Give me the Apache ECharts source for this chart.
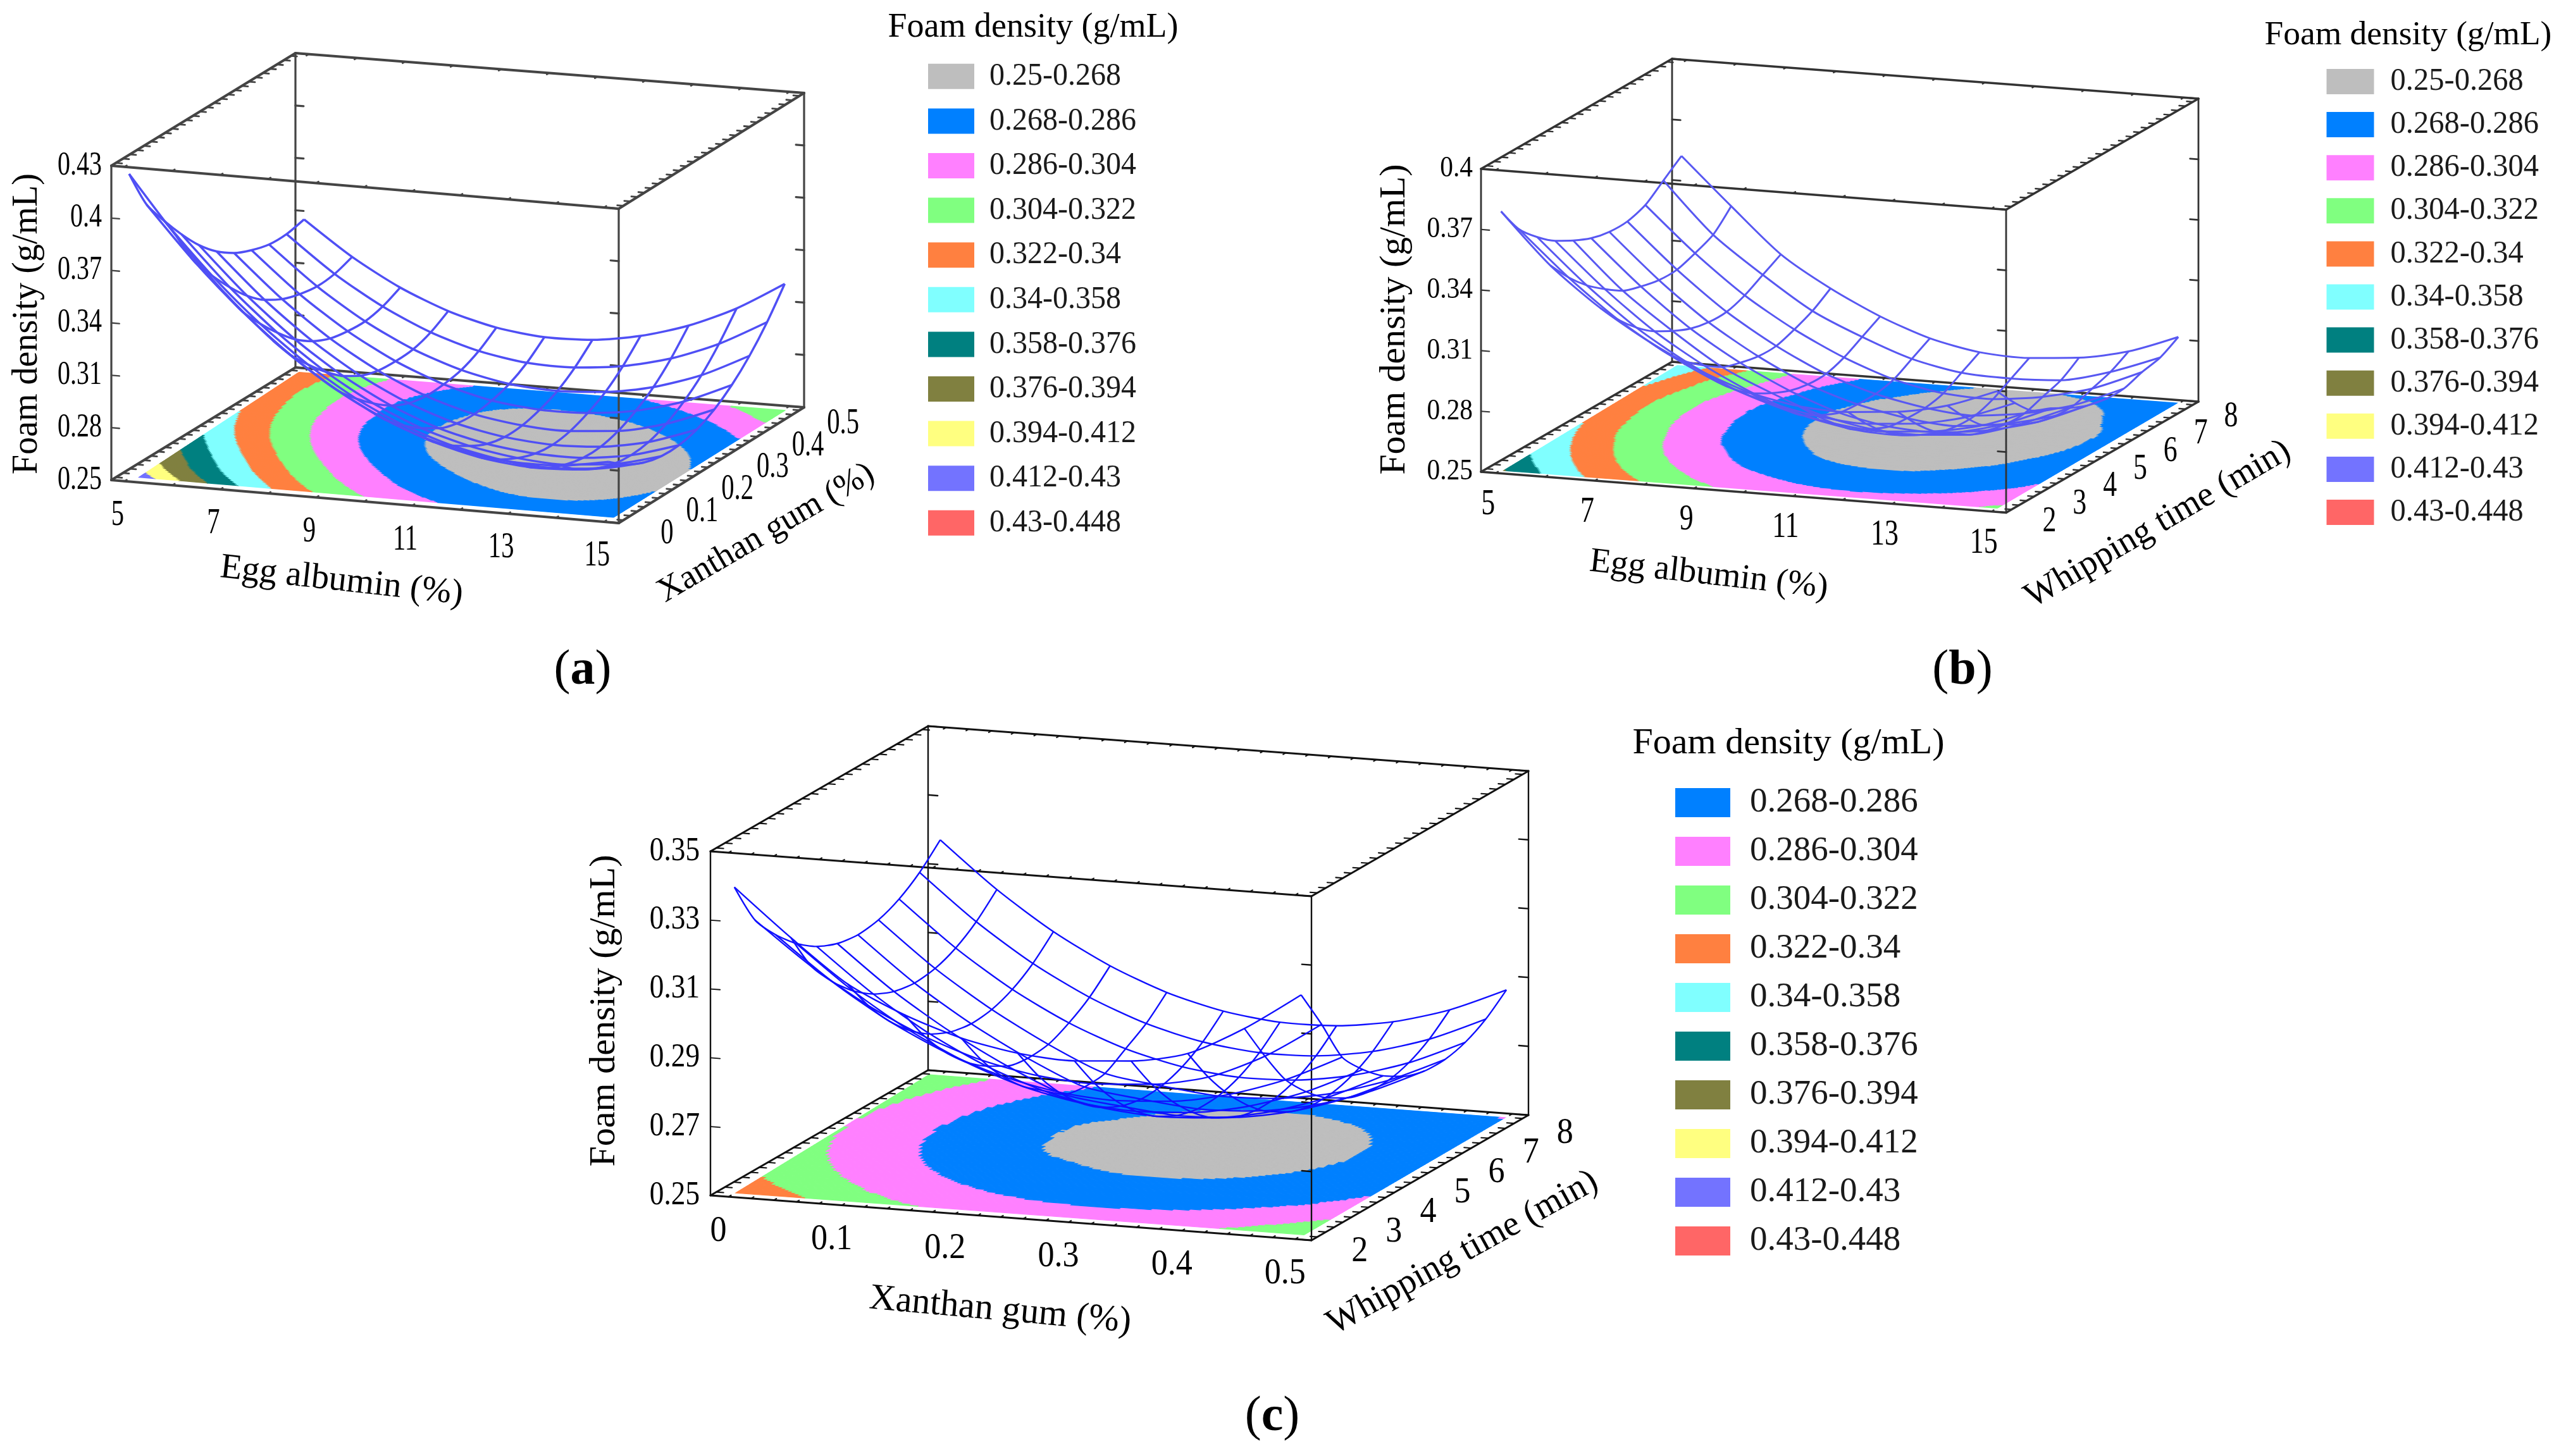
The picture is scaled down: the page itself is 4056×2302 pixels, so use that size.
<!DOCTYPE html>
<html><head><meta charset="utf-8">
<style>html,body{margin:0;padding:0;background:#fff}#c{width:4056px;height:2302px}</style>
<script src="https://cdn.jsdelivr.net/npm/echarts@6/dist/echarts.min.js"></script>
</head><body><div id="c"></div>
<script>
// ---------- values ----------
const bandLimits = [0.25,0.268,0.286,0.304,0.322,0.34,0.358,0.376,0.394,0.412,0.43,0.448];
const bandColors = ['#BEBEBE','#0080FF','#FF80FF','#80FF80','#FF8040','#80FFFF','#008080','#808040','#FFFF80','#7373FF','#FF6666'];
const legendLabels = ['0.25-0.268','0.268-0.286','0.286-0.304','0.304-0.322','0.322-0.34','0.34-0.358','0.358-0.376','0.376-0.394','0.394-0.412','0.412-0.43','0.43-0.448'];
const legendLabelsC = ['0.268-0.286','0.286-0.304','0.304-0.322','0.322-0.34','0.34-0.358','0.358-0.376','0.376-0.394','0.394-0.412','0.412-0.43','0.43-0.448'];
const eggTicks = [5,7,9,11,13,15];
const xanthanTicks = [0,0.1,0.2,0.3,0.4,0.5];
const whipTicks = [2,3,4,5,6,7,8];
const zTicksA = [0.25,0.28,0.31,0.34,0.37,0.4,0.43];
const zTicksB = [0.25,0.28,0.31,0.34,0.37,0.4];
const zTicksC = [0.25,0.27,0.29,0.31,0.33,0.35];
// rows: second factor low to high; columns: first factor low to high
const surfaceA = [
[.4243,.3905,.3606,.3359,.3163,.3007,.2891,.2815,.2779,.2783,.2827],
[.4006,.3702,.3439,.3215,.3031,.2887,.2784,.2717,.2687,.2697,.2749],
[.3852,.3561,.3309,.3098,.2926,.2795,.2703,.2646,.2622,.2639,.2697],
[.3713,.3434,.3195,.2995,.2836,.2717,.2638,.2592,.2577,.2603,.2671],
[.3590,.3323,.3096,.2909,.2762,.2655,.2588,.2555,.2553,.2591,.2671],
[.3493,.3238,.3024,.2849,.2714,.2620,.2565,.2543,.2554,.2604,.2697],
[.3423,.3181,.2978,.2816,.2693,.2611,.2569,.2559,.2582,.2645,.2749],
[.3378,.3148,.2958,.2808,.2698,.2627,.2597,.2600,.2635,.2710,.2827],
[.3349,.3131,.2953,.2815,.2718,.2660,.2642,.2658,.2708,.2798,.2931],
[.3347,.3141,.2976,.2850,.2765,.2719,.2714,.2744,.2809,.2915,.3061],
[.3370,.3177,.3023,.2910,.2837,.2804,.2810,.2854,.2935,.3055,.3217]];
const surfaceB = [
[.378,.353,.334,.319,.307,.298,.293,.292,.294,.299,.308],
[.364,.342,.323,.308,.296,.288,.283,.281,.283,.288,.297],
[.355,.333,.314,.299,.287,.279,.274,.272,.274,.279,.288],
[.348,.326,.307,.292,.280,.271,.266,.265,.268,.274,.284],
[.343,.320,.302,.286,.275,.266,.261,.260,.262,.269,.279],
[.339,.317,.298,.283,.271,.262,.257,.256,.259,.265,.275],
[.337,.315,.296,.281,.269,.261,.256,.254,.257,.263,.273],
[.337,.315,.296,.281,.269,.261,.256,.254,.257,.263,.273],
[.340,.318,.299,.284,.272,.263,.258,.257,.260,.266,.276],
[.347,.322,.304,.288,.277,.268,.263,.262,.263,.269,.278],
[.354,.331,.309,.294,.282,.273,.268,.267,.269,.274,.283]];
const surfaceC = [
[.3390,.3255,.3133,.3056,.3001,.2969,.2959,.2971,.3005,.3090,.3200],
[.3260,.3137,.3036,.2958,.2902,.2869,.2858,.2869,.2902,.2975,.3080],
[.3183,.3059,.2957,.2878,.2821,.2787,.2775,.2785,.2817,.2872,.2950],
[.3123,.2998,.2895,.2815,.2757,.2722,.2709,.2718,.2749,.2803,.2880],
[.3080,.2954,.2850,.2769,.2710,.2674,.2660,.2668,.2698,.2751,.2827],
[.3054,.2927,.2822,.2735,.2665,.2643,.2628,.2635,.2664,.2716,.2791],
[.3045,.2917,.2811,.2723,.2652,.2629,.2613,.2619,.2647,.2698,.2772],
[.3054,.2925,.2818,.2729,.2657,.2633,.2616,.2621,.2648,.2698,.2771],
[.3080,.2950,.2842,.2757,.2694,.2654,.2636,.2640,.2666,.2715,.2787],
[.3123,.2992,.2883,.2797,.2733,.2692,.2673,.2676,.2701,.2749,.2820],
[.3183,.3051,.2941,.2854,.2789,.2747,.2727,.2729,.2753,.2800,.2870]];

// ---------- layout of the three panels ----------
const FONT = '"Liberation Serif","Times New Roman",serif';
const panels = [
 {tag:'a', surface:surfaceA, xTicks:eggTicks, yTicks:xanthanTicks, zTicks:zTicksA, xMinor:1, yMinor:0.02, M:200,
  zMin:0.25, zMax:0.43, fl:[176,759], fr:[978,827], br:[1271,644], bl:[467,581], H:497,
  sa:[.026,.971], sb:[.025,.975], floor:{fl:[.04,.04],fr:[.975,.04],br:[.975,.965],bl:[.02,.965]},
  xOff:[-11,54], yOff:[69,21], zOff:-15, tick:{size:52,sx:.77}, atick:{size:58,sx:.7}, mesh:{c:'#4f4ff5',w:3.5}, box:{c:'#444',w:4},
  zTitle:{t:'Foam density (g/mL)',x:43,y:512,r:90,s:56,sx:1},
  xTitle:{t:'Egg albumin (%)',x:540,y:919,r:-6.4,s:56,sx:1},
  yTitle:{t:'Xanthan gum (%)',x:1211,y:843,r:30.3,s:54,sx:1},
  sub:{x:921,y:1061},
  legend:{title:'Foam density (g/mL)',tx:1633,ty:44,ts:54,labels:legendLabels,first:0,sx0:1467,sw:73,sh:40,y0:120.8,dy:70.6,lx:1564,ls:50,lsx:.96}},
 {tag:'b', surface:surfaceB, xTicks:eggTicks, yTicks:whipTicks, zTicks:zTicksB, xMinor:1, yMinor:0.25, M:200,
  zMin:0.25, zMax:0.40, fl:[2341,746], fr:[3171,810.5], br:[3475,635], bl:[2643,572], H:479,
  sa:[.028,.972], sb:[.028,.972], floor:{fl:[.0345,.024],fr:[.972,.03],br:[.968,.976],bl:[.02,.973]},
  xOff:[-12,50], yOff:[60,19], zOff:-13, tick:{size:47,sx:.88}, atick:{size:57,sx:.77}, mesh:{c:'#5858f2',w:3}, box:{c:'#333',w:3.5},
  zTitle:{t:'Foam density (g/mL)',x:2205,y:505,r:90,s:57.8,sx:1},
  xTitle:{t:'Egg albumin (%)',x:2701,y:909,r:-6.4,s:55,sx:1},
  yTitle:{t:'Whipping time (min)',x:3411,y:829,r:30.2,s:56,sx:1},
  sub:{x:3102,y:1061},
  legend:{title:'Foam density (g/mL)',tx:3806.5,ty:56,ts:53.4,labels:legendLabels,first:0,sx0:3677.5,sw:75,sh:40,y0:129,dy:68.1,lx:3778.6,ls:50,lsx:.97}},
 {tag:'c', surface:surfaceC, xTicks:xanthanTicks, yTicks:whipTicks, zTicks:zTicksC, xMinor:0.02, yMinor:0.25, M:115,
  zMin:0.25, zMax:0.35, fl:[1123,1890], fr:[2073,1961], br:[2416,1763], bl:[1467,1692], H:544,
  sa:[.03,.973], sb:[.027,.973], floor:{fl:[.031,.031],fr:[.975,.035],br:[.972,.97],bl:[.013,.969]},
  xOff:[-16,55], yOff:[67,24], zOff:-17, tick:{size:52,sx:.87}, atick:{size:56,sx:.93}, mesh:{c:'#1010ff',w:2.4}, box:{c:'#111',w:3},
  zTitle:{t:'Foam density (g/mL)',x:956,y:1598,r:90,s:58,sx:1},
  xTitle:{t:'Xanthan gum (%)',x:1581,y:2072,r:-5.2,s:58,sx:1},
  yTitle:{t:'Whipping time (min)',x:2312,y:1981,r:29,s:56.5,sx:1},
  sub:{x:2011,y:2241},
  legend:{title:'Foam density (g/mL)',tx:2827,ty:1176,ts:58,labels:legendLabelsC,first:1,sx0:2648,sw:87,sh:46,y0:1269,dy:77,lx:2766,ls:55,lsx:1}}
];

// ---------- projection: data fractions -> page position ----------
function lerp(a,b,t){return a+(b-a)*t;}
function boxPt(p,a,b,zf){
  const lo=[lerp(p.fl[0],p.fr[0],a),lerp(p.fl[1],p.fr[1],a)];
  const hi=[lerp(p.bl[0],p.br[0],a),lerp(p.bl[1],p.br[1],a)];
  return [lerp(lo[0],hi[0],b),lerp(lo[1],hi[1],b)-p.H*zf];
}
function range(arr){return [arr[0],arr[arr.length-1]];}
function xFrac(p,x){const r=range(p.xTicks);return lerp(p.sa[0],p.sa[1],(x-r[0])/(r[1]-r[0]));}
function yFrac(p,y){const r=range(p.yTicks);return lerp(p.sb[0],p.sb[1],(y-r[0])/(r[1]-r[0]));}
function zFrac(p,z){return (z-p.zMin)/(p.zMax-p.zMin);}
function floorPt(p,u,v){
  const f=p.floor;
  const a=lerp(lerp(f.fl[0],f.fr[0],u),lerp(f.bl[0],f.br[0],u),v);
  const b=lerp(lerp(f.fl[1],f.fr[1],u),lerp(f.bl[1],f.br[1],u),v);
  return boxPt(p,a,b,0);
}
// local quadratic reading of the table between its nodes
function basis(s,n){
  let i=Math.round(s); i=Math.max(1,Math.min(n-2,i));
  const t=s-i;
  return {i,w:[t*(t-1)/2,1-t*t,t*(t+1)/2]};
}
function zAt(g,u,v){
  const nx=g[0].length,ny=g.length;
  const bu=basis(u*(nx-1),nx),bv=basis(v*(ny-1),ny);
  let z=0;
  for(let r=0;r<3;r++)for(let c=0;c<3;c++) z+=bv.w[r]*bu.w[c]*g[bv.i-1+r][bu.i-1+c];
  return z;
}
function bandOf(z){
  for(let k=0;k<bandColors.length;k++) if(z<bandLimits[k+1]) return k;
  return bandColors.length-1;
}

// ---------- series ----------
const series=[];
function customSeries(z,count,render){
  series.push({type:'custom',coordinateSystem:'cartesian2d',silent:true,animation:false,clip:false,z:z,
    data:Array.from({length:count},(_,i)=>[i]),encode:{x:0,y:0},renderItem:render});
}
panels.forEach(p=>{
  // contour floor, one data row per strip
  const M=p.M;
  customSeries(1,M,(params,api)=>{
    const k=params.dataIndex, v0=k/M, v1=(k+1)/M, vm=(k+.5)/M;
    const kids=[]; let start=0, cur=bandOf(zAt(p.surface,.5/M,vm));
    const push=(i0,i1,b)=>{
      const pts=[floorPt(p,i0/M,v0),floorPt(p,i1/M,v0),floorPt(p,i1/M,v1),floorPt(p,i0/M,v1)].map(q=>api.coord(q));
      kids.push({type:'polygon',shape:{points:pts},style:{fill:bandColors[b],stroke:bandColors[b],lineWidth:1.2}});
    };
    for(let i=1;i<M;i++){
      const b=bandOf(zAt(p.surface,(i+.5)/M,vm));
      if(b!==cur){push(start,i,cur);start=i;cur=b;}
    }
    push(start,M,cur);
    return {type:'group',children:kids};
  });
  // box frame with ticks
  const segs=[];
  const c=[[0,0],[1,0],[1,1],[0,1]];
  c.forEach((q,i)=>{
    const n=c[(i+1)%4];
    segs.push({a:boxPt(p,q[0],q[1],0),b:boxPt(p,n[0],n[1],0),w:1});
    segs.push({a:boxPt(p,q[0],q[1],1),b:boxPt(p,n[0],n[1],1),w:1});
    segs.push({a:boxPt(p,q[0],q[1],0),b:boxPt(p,q[0],q[1],1),w:.8});
  });
  const tl=.016;
  p.zTicks.forEach(z=>{
    const f=zFrac(p,z);
    segs.push({a:boxPt(p,0,0,f),b:boxPt(p,tl,0,f),w:.6});
    segs.push({a:boxPt(p,0,1,f),b:boxPt(p,tl,1,f),w:.8});
    segs.push({a:boxPt(p,1,0,f),b:boxPt(p,1-tl,0,f),w:.8});
    segs.push({a:boxPt(p,1,1,f),b:boxPt(p,1-tl,1,f),w:.8});
  });
  const xr=range(p.xTicks), yr=range(p.yTicks);
  for(let x=xr[0];x<=xr[1]+1e-9;x+=p.xMinor){
    const a=xFrac(p,x);
    [[0,.012],[1,.988]].forEach(e=>[0,1].forEach(zf=>segs.push({a:boxPt(p,a,e[0],zf),b:boxPt(p,a,e[1],zf),w:.7})));
  }
  for(let y=yr[0];y<=yr[1]+1e-9;y+=p.yMinor){
    const b=yFrac(p,y);
    [[0,.012],[1,.988]].forEach(e=>[0,1].forEach(zf=>segs.push({a:boxPt(p,e[0],b,zf),b:boxPt(p,e[1],b,zf),w:.7})));
  }
  customSeries(2,segs.length,(params,api)=>{
    const s=segs[params.dataIndex];
    const A=api.coord(s.a),B=api.coord(s.b);
    return {type:'line',shape:{x1:A[0],y1:A[1],x2:B[0],y2:B[1]},style:{stroke:p.box.c,lineWidth:p.box.w*s.w,lineCap:'round'}};
  });
  // wire mesh, one line series per table row and column
  const g=p.surface, nx=g[0].length, ny=g.length;
  const node=(i,j)=>boxPt(p,lerp(p.sa[0],p.sa[1],i/(nx-1)),lerp(p.sb[0],p.sb[1],j/(ny-1)),zFrac(p,g[j][i]));
  const meshLine=d=>series.push({type:'line',data:d,smooth:.25,symbol:'none',silent:true,animation:false,clip:false,z:3,
    lineStyle:{color:p.mesh.c,width:p.mesh.w}});
  for(let j=0;j<ny;j++) meshLine(g[j].map((_,i)=>node(i,j)));
  for(let i=0;i<nx;i++) meshLine(g.map((_,j)=>node(i,j)));
  // texts
  const texts=[];
  const T=(t,x,y,o)=>texts.push(Object.assign({t,x,y},o));
  p.zTicks.forEach(z=>{const q=boxPt(p,0,0,zFrac(p,z));T(String(z),q[0]+p.zOff,q[1],{s:p.tick.size,sx:p.tick.sx,al:'right'});});
  p.xTicks.forEach(x=>{const q=boxPt(p,xFrac(p,x),0,0);T(String(x),q[0]+p.xOff[0],q[1]+p.xOff[1],{s:p.atick.size,sx:p.atick.sx});});
  p.yTicks.forEach(y=>{const q=boxPt(p,1,yFrac(p,y),0);T(String(y),q[0]+p.yOff[0],q[1]+p.yOff[1],{s:p.atick.size,sx:p.atick.sx});});
  [p.zTitle,p.xTitle,p.yTitle].forEach(o=>T(o.t,o.x,o.y,{s:o.s,sx:o.sx,r:o.r}));
  const L=p.legend;
  T(L.title,L.tx,L.ty,{s:L.ts});
  L.labels.forEach((lab,i)=>T(lab,L.lx,L.y0+i*L.dy,{s:L.ls,sx:L.lsx,al:'left',col:'#1a1a1a'}));
  customSeries(4,texts.length,(params,api)=>{
    const o=texts[params.dataIndex], q=api.coord([o.x,o.y]);
    return {type:'text',x:q[0],y:q[1],rotation:(o.r||0)*Math.PI/180,scaleX:o.sx||1,scaleY:1,
      style:{x:0,y:0,text:o.t,fontFamily:FONT,fontSize:o.s,fill:o.col||'#000',align:o.al||'center',verticalAlign:'middle'}};
  });
  // legend swatches
  customSeries(4,L.labels.length,(params,api)=>{
    const i=params.dataIndex, q=api.coord([L.sx0,L.y0+i*L.dy-L.sh/2]);
    return {type:'rect',shape:{x:q[0],y:q[1],width:L.sw,height:L.sh},style:{fill:bandColors[i+L.first]}};
  });
  // panel tag
  customSeries(4,1,(params,api)=>{
    const q=api.coord([p.sub.x,p.sub.y]);
    return {type:'text',x:q[0],y:q[1],style:{x:0,y:0,text:'{n|(}{b|'+p.tag+'}{n|)}',align:'center',verticalAlign:'middle',
      rich:{n:{fontFamily:FONT,fontSize:78,fill:'#000'},b:{fontFamily:FONT,fontSize:78,fontWeight:'bold',fill:'#000'}}}};
  });
});

const chart=echarts.init(document.getElementById('c'),null,{renderer:'canvas',width:4056,height:2302});
chart.setOption({
  animation:false,backgroundColor:'#fff',
  grid:{left:0,right:0,top:0,bottom:0,containLabel:false},
  xAxis:{type:'value',min:0,max:4056,show:false},
  yAxis:{type:'value',min:0,max:2302,inverse:true,show:false},
  series:series
});
</script></body></html>
